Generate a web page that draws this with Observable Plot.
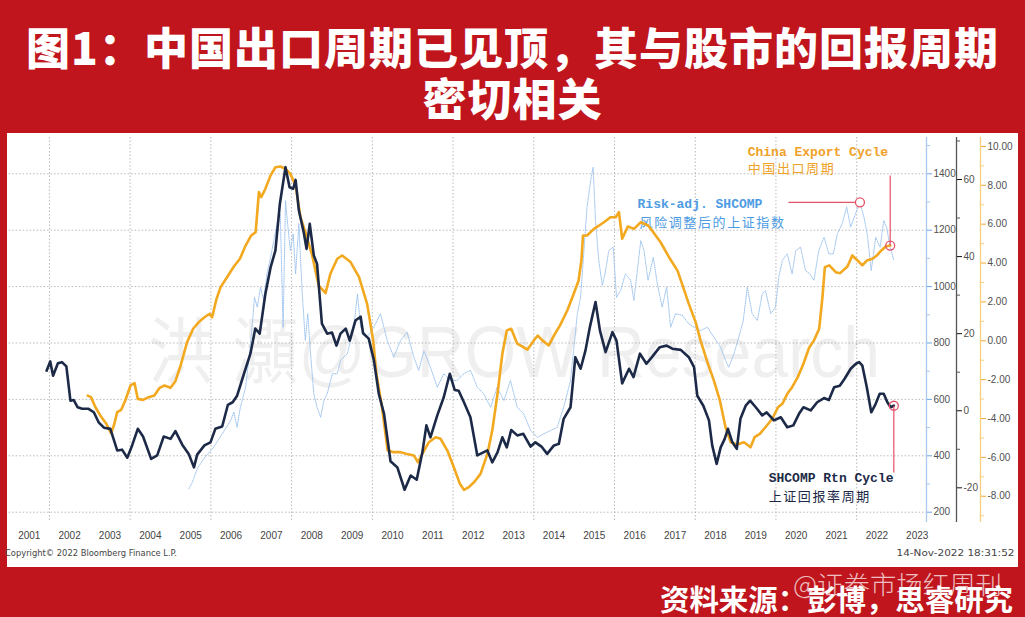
<!DOCTYPE html>
<html>
<head>
<meta charset="utf-8">
<script src="https://cdn.jsdelivr.net/npm/d3@7"></script>
<script src="https://cdn.jsdelivr.net/npm/@observablehq/plot@0.6"></script>
<style>
  html, body { margin: 0; padding: 0; }
  body { width: 1025px; height: 617px; overflow: hidden; background: #c0151d; position: relative; font-family: "Liberation Sans", sans-serif; }
  .abs { position: absolute; white-space: nowrap; }
  .fit { transform-origin: left center; display: inline-block; }
  .fitr { transform-origin: right center; display: inline-block; }
  #panel { position: absolute; left: 7px; top: 133px; width: 1011px; height: 434px; background: #fff; }
  #title { position: absolute; left: 0; top: 21px; width: 1025px; text-align: center; color: #fff; font-family: "Noto Sans CJK SC", sans-serif; font-weight: 900; font-size: 44px; line-height: 51px; letter-spacing: 1px; }
  #wm { color: rgba(170,170,170,0.19); font-family: "Liberation Sans", "Noto Sans CJK SC", sans-serif; font-size: 72px; line-height: 72px; }
  #charts { position: absolute; left: 0; top: 133px; width: 1025px; height: 412px; }
  #charts svg { position: absolute; left: 0; top: 0; }
  .small { font-size: 9px; line-height: 10px; color: #444; font-family: "DejaVu Sans", sans-serif; }
  #wm2 { color: rgba(255,255,255,0.72); font-family: "Noto Sans CJK SC", sans-serif; font-weight: 300; font-size: 25px; line-height: 26px; }
  #src { color: #fff; font-family: "Noto Sans CJK SC", sans-serif; font-weight: 700; font-size: 29px; line-height: 30px; }
</style>
</head>
<body>
<div id="title">图1：中国出口周期已见顶，其与股市的回报周期<br>密切相关</div>
<div id="panel"></div>
<div id="wm" class="abs fit" data-w="732" style="left:148px; top:316px;">洪 灝@GROW Research</div>
<div id="charts"></div>
<div class="abs small fit" data-w="172" style="left:5px; top:548px;">Copyright© 2022 Bloomberg Finance L.P.</div>
<div class="abs small fitr" data-w="118" style="right:11px; top:548px;">14-Nov-2022 18:31:52</div>
<div id="src" class="abs fitr" data-w="353" style="right:12px; top:583px;">资料来源：彭博，思睿研究</div>
<div id="wm2" class="abs fit" data-w="209" style="left:793px; top:570px;">@证券市场红周刊</div>
<script>
// ---------------- data (decimal year, value) ----------------
// SHCOMP Rtn Cycle (dark navy, middle right axis)
const navySeries = [
[2001.93,10.4],[2002.02,12.8],[2002.09,9.1],[2002.21,12.3],[2002.31,12.6],[2002.42,11.5],[2002.52,2.6],[2002.60,2.8],[2002.70,0.9],[2002.81,0.5],
[2002.97,0.5],[2003.10,-0.4],[2003.22,-3.0],[2003.35,-4.4],[2003.51,-4.7],[2003.68,-10.3],[2003.80,-10.1],[2003.93,-12.2],[2004.05,-9.0],[2004.19,-4.7],
[2004.32,-6.7],[2004.52,-12.5],[2004.67,-11.6],[2004.83,-6.7],[2005.00,-7.3],[2005.12,-5.3],[2005.29,-8.8],[2005.45,-11.2],[2005.58,-14.7],[2005.66,-11.4],
[2005.84,-9.0],[2005.99,-8.2],[2006.11,-4.7],[2006.28,-4.1],[2006.42,1.5],[2006.54,2.2],[2006.65,3.9],[2006.82,9.6],[2006.98,14.8],[2007.10,21.3],
[2007.21,20.0],[2007.35,30.3],[2007.48,37.2],[2007.60,41.6],[2007.71,53.7],[2007.85,63.2],[2007.95,58.0],[2008.04,57.6],[2008.10,59.9],[2008.18,52.0],
[2008.30,46.3],[2008.37,42.0],[2008.45,48.5],[2008.55,40.3],[2008.63,38.1],[2008.75,22.6],[2008.88,20.0],[2009.00,20.3],[2009.11,16.9],[2009.21,20.0],
[2009.34,21.3],[2009.44,18.2],[2009.58,23.4],[2009.71,24.4],[2009.77,20.1],[2009.91,18.7],[2010.04,13.0],[2010.16,4.4],[2010.29,-0.8],[2010.45,-13.1],
[2010.62,-14.7],[2010.80,-20.5],[2010.95,-16.8],[2011.10,-17.9],[2011.24,-10.8],[2011.34,-3.8],[2011.44,-6.9],[2011.61,-1.2],[2011.77,3.5],[2011.92,9.6],
[2012.04,5.4],[2012.14,5.2],[2012.27,2.2],[2012.43,-1.7],[2012.60,-11.6],[2012.75,-10.8],[2012.85,-10.3],[2012.97,-13.4],[2013.10,-10.8],[2013.22,-6.9],
[2013.33,-9.5],[2013.44,-5.0],[2013.59,-6.4],[2013.74,-6.0],[2013.92,-9.3],[2014.04,-8.2],[2014.19,-9.3],[2014.33,-11.2],[2014.50,-9.0],[2014.62,-8.6],
[2014.74,-2.1],[2014.91,0.9],[2015.03,13.9],[2015.16,10.9],[2015.28,15.6],[2015.39,21.7],[2015.53,28.2],[2015.64,20.8],[2015.78,15.2],[2015.95,20.4],
[2016.05,18.2],[2016.19,7.1],[2016.36,10.9],[2016.47,8.7],[2016.63,14.8],[2016.79,12.2],[2016.94,14.1],[2017.12,16.5],[2017.29,16.9],[2017.43,16.1],
[2017.64,15.8],[2017.84,13.9],[2017.97,11.3],[2018.05,3.9],[2018.20,1.3],[2018.34,-2.5],[2018.42,-9.0],[2018.53,-13.8],[2018.63,-9.5],[2018.73,-7.3],
[2018.81,-4.7],[2018.92,-8.2],[2019.03,-9.9],[2019.12,-2.1],[2019.25,1.3],[2019.36,2.6],[2019.50,0.9],[2019.66,-1.2],[2019.77,-0.4],[2019.95,-2.5],
[2020.12,-1.7],[2020.28,-4.3],[2020.43,-3.8],[2020.57,-0.8],[2020.68,0.9],[2020.86,0.1],[2021.02,2.2],[2021.19,3.3],[2021.31,2.8],[2021.44,6.1],
[2021.58,6.5],[2021.70,8.3],[2021.85,10.9],[2021.98,12.2],[2022.06,12.6],[2022.14,11.7],[2022.25,6.1],[2022.36,-0.4],[2022.47,1.8],[2022.57,4.4],
[2022.67,4.4],[2022.76,2.2],[2022.84,0.9],[2022.92,1.3]
];
// China Export Cycle (orange, outer right axis)
const orangeSeries = [
[2002.95,-2.82],[2003.03,-2.90],[2003.14,-3.42],[2003.26,-3.84],[2003.41,-4.27],[2003.53,-4.76],[2003.61,-4.27],[2003.68,-3.67],[2003.78,-3.55],[2003.88,-3.07],
[2004.01,-2.30],[2004.11,-2.18],[2004.19,-2.99],[2004.32,-3.04],[2004.46,-2.90],[2004.60,-2.82],[2004.73,-2.42],[2004.85,-2.30],[2005.00,-2.42],[2005.12,-2.08],
[2005.25,-1.27],[2005.41,-0.07],[2005.56,0.62],[2005.70,0.96],[2005.84,1.21],[2005.97,1.39],[2006.03,1.21],[2006.14,2.16],[2006.24,2.76],[2006.40,3.27],
[2006.57,3.82],[2006.72,4.22],[2006.86,4.90],[2007.00,5.42],[2007.11,5.59],[2007.19,7.65],[2007.25,7.39],[2007.35,7.82],[2007.48,8.51],[2007.60,8.93],
[2007.72,8.97],[2007.85,8.85],[2007.97,8.59],[2008.10,7.99],[2008.22,6.36],[2008.34,5.59],[2008.51,4.39],[2008.67,2.85],[2008.84,2.45],[2008.96,3.45],
[2009.13,4.22],[2009.25,4.39],[2009.46,4.05],[2009.67,3.27],[2009.87,1.90],[2010.02,0.02],[2010.10,-1.70],[2010.24,-3.42],[2010.38,-5.65],[2010.53,-5.73],
[2010.70,-5.73],[2010.86,-5.82],[2011.03,-5.90],[2011.13,-6.25],[2011.24,-5.82],[2011.40,-5.22],[2011.57,-4.96],[2011.69,-5.04],[2011.86,-5.65],[2012.02,-6.51],
[2012.17,-7.36],[2012.27,-7.67],[2012.39,-7.53],[2012.52,-7.28],[2012.68,-6.85],[2012.85,-5.82],[2012.97,-4.62],[2013.10,-2.73],[2013.22,-0.67],[2013.33,0.53],
[2013.44,0.62],[2013.59,-0.15],[2013.74,-0.33],[2013.84,-0.46],[2014.00,0.02],[2014.10,0.27],[2014.21,0.02],[2014.37,-0.24],[2014.50,0.27],[2014.65,0.79],
[2014.83,1.56],[2014.99,2.42],[2015.11,3.10],[2015.18,4.13],[2015.22,5.42],[2015.32,5.42],[2015.49,5.76],[2015.74,6.10],[2015.90,6.36],[2016.03,6.36],
[2016.11,6.62],[2016.19,5.25],[2016.33,5.88],[2016.48,5.76],[2016.65,6.10],[2016.83,5.93],[2016.96,5.59],[2017.14,5.07],[2017.35,4.30],[2017.56,3.61],
[2017.70,2.76],[2017.84,1.90],[2018.01,0.96],[2018.13,0.02],[2018.30,-1.10],[2018.46,-2.04],[2018.61,-3.07],[2018.75,-4.45],[2018.88,-5.22],[2019.04,-5.34],
[2019.21,-5.22],[2019.37,-5.48],[2019.47,-4.96],[2019.60,-4.79],[2019.74,-4.45],[2019.91,-4.01],[2020.05,-3.42],[2020.16,-3.24],[2020.28,-2.73],[2020.40,-2.39],
[2020.54,-1.87],[2020.68,-1.18],[2020.82,-0.36],[2020.94,0.02],[2021.07,0.62],[2021.15,2.24],[2021.21,3.79],[2021.32,3.88],[2021.48,3.53],[2021.59,3.48],
[2021.77,3.82],[2021.89,4.39],[2022.02,4.13],[2022.14,3.88],[2022.25,4.13],[2022.39,4.22],[2022.50,4.39],[2022.61,4.65],[2022.72,4.85],[2022.83,4.90]
];
// Risk-adj. SHCOMP (light blue dotted, inner right axis)
const blueSeries = [
[2005.45,283],[2005.54,306],[2005.66,354],[2005.82,389],[2006.07,431],[2006.28,478],[2006.49,525],[2006.57,555],[2006.65,501],[2006.73,572],
[2006.86,643],[2006.94,738],[2007.02,856],[2007.08,962],[2007.15,927],[2007.23,998],[2007.31,951],[2007.39,1045],[2007.48,1104],[2007.56,1163],
[2007.64,1223],[2007.72,1258],[2007.79,856],[2007.85,1305],[2007.91,1211],[2007.97,1128],[2008.04,1187],[2008.10,1045],[2008.18,1223],[2008.26,986],
[2008.34,809],[2008.40,904],[2008.47,762],[2008.55,620],[2008.63,572],[2008.72,537],[2008.80,596],[2008.88,620],[2009.01,691],[2009.13,691],
[2009.21,738],[2009.38,762],[2009.54,856],[2009.63,974],[2009.71,856],[2009.87,821],[2010.04,856],[2010.20,904],[2010.37,809],[2010.53,750],
[2010.70,809],[2010.86,838],[2011.03,750],[2011.15,703],[2011.28,773],[2011.44,714],[2011.61,643],[2011.77,691],[2011.94,667],[2012.10,667],
[2012.27,691],[2012.43,703],[2012.60,643],[2012.76,620],[2012.93,572],[2013.09,643],[2013.26,596],[2013.42,667],[2013.59,572],[2013.75,549],
[2013.92,490],[2014.09,466],[2014.25,478],[2014.42,490],[2014.58,501],[2014.74,572],[2014.91,667],[2015.08,904],[2015.16,962],[2015.32,1282],
[2015.41,1376],[2015.47,1423],[2015.53,1234],[2015.61,1093],[2015.70,1004],[2015.78,1057],[2015.86,1128],[2015.97,1140],[2016.05,962],[2016.15,986],
[2016.27,1045],[2016.40,1022],[2016.48,951],[2016.65,1163],[2016.73,1128],[2016.83,1022],[2016.96,1104],[2017.06,1010],[2017.18,927],[2017.29,998],
[2017.39,856],[2017.51,904],[2017.68,898],[2017.84,868],[2017.97,856],[2018.13,844],[2018.30,856],[2018.46,821],[2018.63,785],[2018.75,738],
[2018.83,714],[2018.96,762],[2019.08,821],[2019.19,880],[2019.29,998],[2019.41,904],[2019.54,880],[2019.66,974],[2019.74,986],[2019.87,904],
[2019.99,927],[2020.07,1033],[2020.16,1093],[2020.28,1116],[2020.40,1045],[2020.49,1128],[2020.61,1140],[2020.73,1057],[2020.84,1045],[2020.94,1022],
[2021.06,1128],[2021.19,1175],[2021.31,1116],[2021.42,1116],[2021.52,1187],[2021.64,1223],[2021.75,1282],[2021.85,1211],[2021.97,1258],[2022.08,1299],
[2022.18,1246],[2022.26,1187],[2022.36,1057],[2022.47,1175],[2022.58,1140],[2022.67,1234],[2022.74,1211],[2022.82,1146],[2022.92,1093]
];

// axes ticks
const blueTicks = [200, 400, 600, 800, 1000, 1200, 1400];
const blueMinorTicks = [300, 500, 700, 900, 1100, 1300, 1500];
const navyTicks = [-20, 0, 20, 40, 60];
const navyMinorTicks = [-10, 10, 30, 50, 70];
const orangeTicks = [-8, -6, -4, -2, 0, 2, 4, 6, 8, 10];
const orangeMinorTicks = [-9, -7, -5, -3, -1, 1, 3, 5, 7, 9];
const yearLabels = d3.range(2001, 2024);
const gridYears = d3.range(2002, 2023, 2);

// scale extents (value at top / bottom of the plot frame)
const xExtent = [2001.0, 2023.73];
const blueDomain = [163.5, 1528.7];
const navyDomain = [-29.0, 70.9];
const orangeDomain = [-9.35, 10.46];

// label annotations
const orangeLabels = [{year: 2019.30, v: 9.72, text: "China Export Cycle"}, {year: 2019.30, v: 8.84, text: "中国出口周期"}];
const blueLabels = [{year: 2016.57, v: 1292, text: "Risk-adj. SHCOMP"}, {year: 2016.62, v: 1227, text: "风险调整后的上证指数"}];
const navyLabels = [{year: 2019.82, v: -17.5, text: "SHCOMP Rtn Cycle"}, {year: 2019.82, v: -22.3, text: "上证回报率周期"}];
const blueLeaderEndYear = 2020.31;
const orangeLeaderEndValue = 8.51;
const navyLeaderEndValue = -16.0;

// ---------------- helpers ----------------
function toDate(y) {
  const yr = Math.floor(y);
  const s = Date.UTC(yr, 0, 1), e = Date.UTC(yr + 1, 0, 1);
  return new Date(s + (y - yr) * (e - s));
}
const rows = arr => arr.map(([y, v]) => ({date: toDate(y), v}));
const navy = rows(navySeries), orange = rows(orangeSeries), blue = rows(blueSeries);
const xDomain = xExtent.map(toDate);

const C = {
  navy: "#1c2a48", orange: "#f2a81f", blue: "#9cc3ee", blueText: "#4d9be3", orangeText: "#efa128",
  red: "#e2536a", grid: "#a9a9a9", label: "#505050"
};
const common = {
  width: 1025, height: 412, marginTop: 4, marginBottom: 23, marginLeft: 8.6, marginRight: 99,
  style: {background: "transparent", fontFamily: "Liberation Sans, sans-serif", fontSize: "10px", color: "#444", overflow: "visible"}
};
const mono = "Liberation Mono, monospace";
const cjk = "Noto Sans CJK SC, sans-serif";

const bluePeak = d3.greatest(blue.filter(d => d.date >= toDate(2021.5)), d => d.v);
const orangeLast = orange[orange.length - 1];
const navyLast = navy[navy.length - 1];

// ---------------- blue layer (with grid and x axis) ----------------
const bluePlot = Plot.plot({
  ...common,
  x: {type: "utc", domain: xDomain},
  y: {domain: blueDomain, label: null},
  marks: [
    Plot.gridY(blueTicks, {stroke: C.grid, strokeOpacity: 0.8, strokeDasharray: "1.5,2"}),
    Plot.gridX(gridYears.map(y => toDate(y)), {stroke: C.grid, strokeOpacity: 0.8, strokeDasharray: "1.5,2"}),
    Plot.axisX(yearLabels.map(y => toDate(y + 0.5)), {tickSize: 0, tickPadding: 9, tickFormat: d => String(d.getUTCFullYear()), fill: "#444", label: null}),
    Plot.line(blue, {x: "date", y: "v", stroke: C.blue, strokeWidth: 1, strokeDasharray: "1,1.2"}),
    Plot.ruleX([xDomain[1]], {stroke: "#a9c9ee", strokeWidth: 1.3}),
    Plot.axisY(blueMinorTicks, {anchor: "right", tickSize: 3, stroke: "#a9c9ee", fill: "none", label: null}),
    Plot.axisY(blueTicks, {anchor: "right", tickSize: 5, tickPadding: 2, stroke: "#6fa7e6", fill: C.label, tickFormat: d => String(d), label: null}),
    Plot.link([bluePeak], {x1: () => toDate(blueLeaderEndYear), y1: "v", x2: "date", y2: "v", stroke: C.red, strokeWidth: 1.2}),
    Plot.dot([bluePeak], {x: "date", y: "v", r: 4.5, stroke: C.red, strokeWidth: 1.3, fill: "white"}),
    Plot.text(blueLabels.slice(0, 1), {x: d => toDate(d.year), y: "v", text: "text", textAnchor: "start", fill: C.blueText, fontFamily: mono, fontSize: 13, fontWeight: "bold"}),
    Plot.text(blueLabels.slice(1), {x: d => toDate(d.year), y: "v", text: "text", textAnchor: "start", fill: C.blueText, fontFamily: cjk, fontSize: 13})
  ]
});

// ---------------- orange layer ----------------
const orangePlot = Plot.plot({
  ...common,
  x: {type: "utc", domain: xDomain, axis: null},
  y: {domain: orangeDomain, label: null},
  marks: [
    Plot.ruleX([xDomain[1]], {dx: 54, stroke: "#f7cf7e", strokeWidth: 1.3}),
    Plot.axisY(orangeMinorTicks, {anchor: "right", dx: 54, tickSize: 3, stroke: "#f7cf7e", fill: "none", label: null}),
    Plot.axisY(orangeTicks, {anchor: "right", dx: 54, tickSize: 5, tickPadding: 2, stroke: "#f2a93b", fill: C.label, tickFormat: d => d.toFixed(2), label: null}),
    Plot.line(orange, {x: "date", y: "v", stroke: C.orange, strokeWidth: 2.6, strokeLinejoin: "round"}),
    Plot.link([orangeLast], {x1: "date", y1: () => orangeLeaderEndValue, x2: "date", y2: "v", stroke: C.red, strokeWidth: 1.2}),
    Plot.dot([orangeLast], {x: "date", y: "v", r: 4.5, stroke: C.red, strokeWidth: 1.3, fill: "none"}),
    Plot.text(orangeLabels.slice(0, 1), {x: d => toDate(d.year), y: "v", text: "text", textAnchor: "start", fill: C.orangeText, fontFamily: mono, fontSize: 13, fontWeight: "bold"}),
    Plot.text(orangeLabels.slice(1), {x: d => toDate(d.year), y: "v", text: "text", textAnchor: "start", fill: C.orangeText, fontFamily: cjk, fontSize: 13})
  ]
});

// ---------------- navy layer ----------------
const navyPlot = Plot.plot({
  ...common,
  x: {type: "utc", domain: xDomain, axis: null},
  y: {domain: navyDomain, label: null},
  marks: [
    Plot.ruleX([xDomain[1]], {dx: 30, stroke: "#555", strokeWidth: 1.3}),
    Plot.axisY(navyMinorTicks, {anchor: "right", dx: 30, tickSize: 3, stroke: "#555", fill: "none", label: null}),
    Plot.axisY(navyTicks, {anchor: "right", dx: 30, tickSize: 5, tickPadding: 2, stroke: "#111", fill: C.label, tickFormat: d => String(d), label: null}),
    Plot.line(navy, {x: "date", y: "v", stroke: C.navy, strokeWidth: 2.6, strokeLinejoin: "round"}),
    Plot.link([navyLast], {x1: "date", y1: "v", x2: "date", y2: () => navyLeaderEndValue, stroke: C.red, strokeWidth: 1.2}),
    Plot.dot([navyLast], {x: "date", y: "v", r: 4.5, stroke: C.red, strokeWidth: 1.3, fill: "none"}),
    Plot.text(navyLabels.slice(0, 1), {x: d => toDate(d.year), y: "v", text: "text", textAnchor: "start", fill: C.navy, fontFamily: mono, fontSize: 13, fontWeight: "bold"}),
    Plot.text(navyLabels.slice(1), {x: d => toDate(d.year), y: "v", text: "text", textAnchor: "start", fill: C.navy, fontFamily: cjk, fontSize: 13})
  ]
});

const host = document.getElementById("charts");
host.append(bluePlot, orangePlot, navyPlot);

// widen the Chinese label lines a little, as in the reference
d3.selectAll("#charts text").filter(function () { return /[\u4e00-\u9fff]/.test(this.textContent); })
  .attr("letter-spacing", "1.6px");

// fit html texts to measured widths
function fit() {
  document.querySelectorAll("[data-w]").forEach(el => {
    el.style.transform = "none";
    const w = el.getBoundingClientRect().width;
    const target = +el.dataset.w;
    if (w > 0) el.style.transform = `scaleX(${target / w})`;
  });
}
fit();
if (document.fonts && document.fonts.ready) document.fonts.ready.then(fit);
</script>
</body>
</html>
